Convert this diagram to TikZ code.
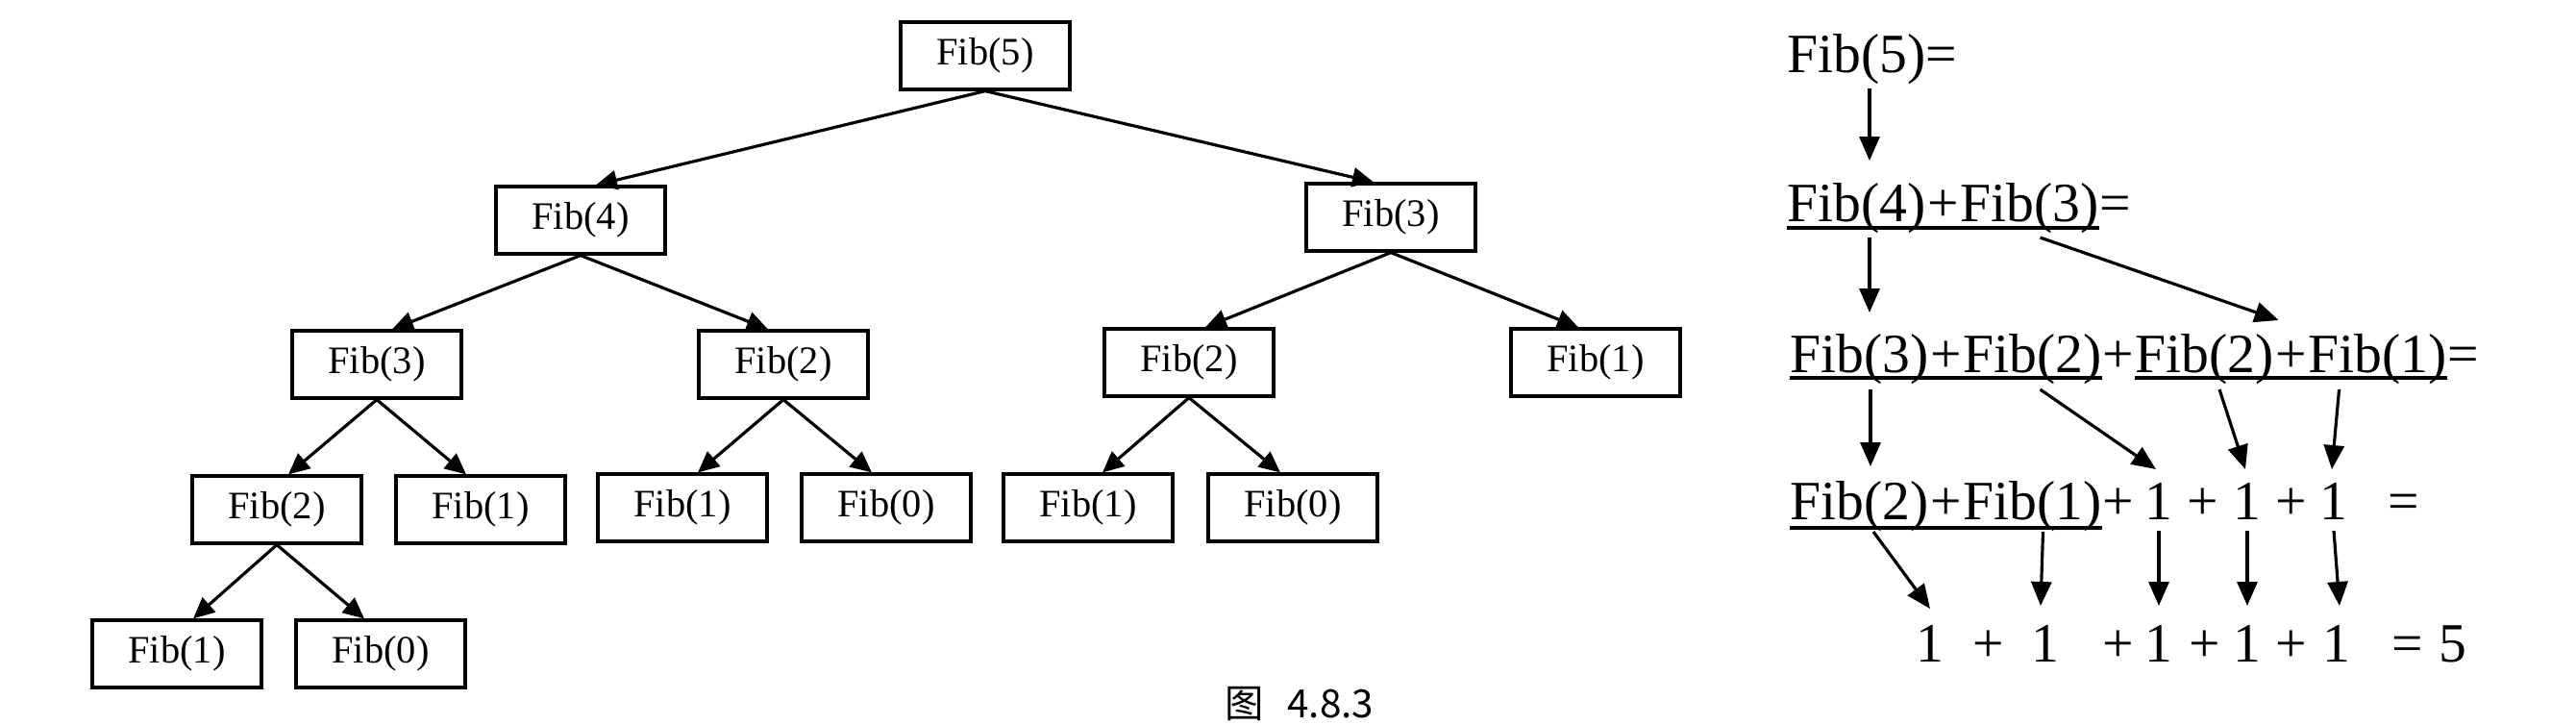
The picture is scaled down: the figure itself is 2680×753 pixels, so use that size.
\documentclass[tikz,border=0pt]{standalone}
\usepackage{fontspec}
\setmainfont{Liberation Serif}
\newfontfamily\cjkfnt{Noto Sans CJK SC}
\usetikzlibrary{arrows.meta,calc}
\newcommand\fbfnt{\fontsize{11.5}{13}\selectfont}
\newcommand\eqfnt{\fontsize{16.4}{19}\selectfont}
\begin{document}
\begin{tikzpicture}[x=0.01cm,y=-0.01cm,
  fibbox/.style={draw, line width=0.9pt, minimum width=1.76cm, minimum height=0.70cm, inner sep=0pt, font=\fbfnt},
  edge/.style={line width=0.9pt, -{Triangle[length=2.2mm,width=2mm]}},
  eq/.style={inner sep=0pt, font=\eqfnt, anchor=base west},
  eqc/.style={inner sep=0pt, font=\eqfnt, anchor=base},
  rarr/.style={line width=0.9pt, -{Triangle[length=2.5mm,width=2.1mm]}},
  uline/.style={line width=1pt}]
\useasboundingbox (0,0) rectangle (2680,753);
% ---------- tree ----------
\node[fibbox] (f5)  at (1025,58)  {Fib(5)};
\node[fibbox] (f4)  at (604,229)  {Fib(4)};
\node[fibbox] (f3r) at (1447,226) {Fib(3)};
\node[fibbox] (f3l) at (392,379)  {Fib(3)};
\node[fibbox] (f2a) at (815,379)  {Fib(2)};
\node[fibbox] (f2b) at (1237,377) {Fib(2)};
\node[fibbox] (f1a) at (1660,377) {Fib(1)};
\node[fibbox] (f2c) at (288,530)  {Fib(2)};
\node[fibbox] (f1b) at (500,530)  {Fib(1)};
\node[fibbox] (f1c) at (710,528)  {Fib(1)};
\node[fibbox] (f0a) at (922,528)  {Fib(0)};
\node[fibbox] (f1d) at (1132,528) {Fib(1)};
\node[fibbox] (f0b) at (1345,528) {Fib(0)};
\node[fibbox] (f1e) at (184,680)  {Fib(1)};
\node[fibbox] (f0c) at (396,680)  {Fib(0)};
\draw[edge] (f5.south) -- ([xshift=0.16cm]f4.north);
\draw[edge] (f5.south) -- ([xshift=-0.18cm]f3r.north);
\draw[edge] (f4.south) -- ([xshift=0.16cm]f3l.north);
\draw[edge] (f4.south) -- ([xshift=-0.16cm]f2a.north);
\draw[edge] (f3r.south) -- ([xshift=0.17cm]f2b.north);
\draw[edge] (f3r.south) -- ([xshift=-0.18cm]f1a.north);
\draw[edge] (f3l.south) -- ([xshift=0.12cm]f2c.north);
\draw[edge] (f3l.south) -- ([xshift=-0.15cm]f1b.north);
\draw[edge] (f2a.south) -- ([xshift=0.16cm]f1c.north);
\draw[edge] (f2a.south) -- ([xshift=-0.15cm]f0a.north);
\draw[edge] (f2b.south) -- ([xshift=0.15cm]f1d.north);
\draw[edge] (f2b.south) -- ([xshift=-0.13cm]f0b.north);
\draw[edge] (f2c.south) -- ([xshift=0.17cm]f1e.north);
\draw[edge] (f2c.south) -- ([xshift=-0.17cm]f0c.north);
% ---------- caption ----------
\node[font=\cjkfnt\fontsize{11.5}{13}\selectfont, anchor=south, inner sep=0pt] (cap) at (1352,750) {图\hspace{0.6em}4.8.3};
% ---------- expansion ----------
\node[eq] (r1) at (1859,75) {Fib(5)=};
\node[eq] (r2a) at (1859,230) {Fib(4)};
\node[eq] (r2b) at (r2a.base east) {+};
\node[eq] (r2c) at (r2b.base east) {Fib(3)};
\node[eq] (r2d) at (r2c.base east) {=};
\draw[uline] ([yshift=-0.07cm]r2a.base west) -- ([yshift=-0.07cm]r2c.base east);
\node[eq] (r3a) at (1862,387) {Fib(3)};
\node[eq] (r3b) at (r3a.base east) {+};
\node[eq] (r3c) at (r3b.base east) {Fib(2)};
\node[eq] (r3d) at (r3c.base east) {+};
\node[eq] (r3e) at (r3d.base east) {Fib(2)};
\node[eq] (r3f) at (r3e.base east) {+};
\node[eq] (r3g) at (r3f.base east) {Fib(1)};
\node[eq] (r3h) at (r3g.base east) {=};
\draw[uline] ([yshift=-0.06cm]r3a.base west) -- ([yshift=-0.06cm]r3c.base east);
\draw[uline] ([yshift=-0.06cm]r3e.base west) -- ([yshift=-0.06cm]r3g.base east);
\node[eq] (r4a) at (1862,540) {Fib(2)};
\node[eq] (r4b) at (r4a.base east) {+};
\node[eq] (r4c) at (r4b.base east) {Fib(1)};
\node[eq] (r4d) at (r4c.base east) {+};
\node[eqc] (r4e) at (2246,540) {1};
\node[eqc] (r4f) at (2292,540) {+};
\node[eqc] (r4g) at (2338,540) {1};
\node[eqc] (r4h) at (2384,540) {+};
\node[eqc] (r4i) at (2428,540) {1};
\node[eqc] (r4j) at (2501,540) {=};
\draw[uline] ([yshift=-0.09cm]r4a.base west) -- ([yshift=-0.09cm]r4c.base east);
\node[eqc] (r5a) at (2008,688) {1};
\node[eqc] (r5b) at (2069,688) {+};
\node[eqc] (r5c) at (2128,688) {1};
\node[eqc] (r5d) at (2204,688) {+};
\node[eqc] (r5e) at (2246,688) {1};
\node[eqc] (r5f) at (2294,688) {+};
\node[eqc] (r5g) at (2338,688) {1};
\node[eqc] (r5h) at (2384,688) {+};
\node[eqc] (r5i) at (2431,688) {1};
\node[eqc] (r5j) at (2505,688) {=};
\node[eqc] (r5k) at (2552,688) {5};
% arrows
\draw[rarr] ($(r1.base west)+(86,17)$) -- ($(r2a.base west)+(86,-63)$);
\draw[rarr] ($(r2a.base west)+(86,17)$) -- ($(r3a.base west)+(83,-62)$);
\draw[rarr] ($(r2c.base west)+(84,17)$) -- ($(r3f.base)+(-13,-54)$);
\draw[rarr] ($(r3a.base west)+(84,18)$) -- ($(r4a.base west)+(84,-55)$);
\draw[rarr] ($(r3c.base west)+(81,18)$) -- ($(r4e.base)+(-3,-52)$);
\draw[rarr] ($(r3e.base west)+(88,18)$) -- ($(r4g.base)+(-2,-52)$);
\draw[rarr] ($(r3g.base west)+(33,18)$) -- ($(r4i.base)+(-2,-52)$);
\draw[rarr] ($(r4a.base west)+(87,13)$) -- ($(r5a.base)+(0,-55)$);
\draw[rarr] ($(r4c.base west)+(84,13)$) -- ($(r5c.base)+(-5,-58)$);
\draw[rarr] ($(r4e.base)+(0,12)$) -- ($(r5e.base)+(0,-58)$);
\draw[rarr] ($(r4g.base)+(0,12)$) -- ($(r5g.base)+(0,-58)$);
\draw[rarr] ($(r4i.base)+(0,12)$) -- ($(r5i.base)+(3,-58)$);
\end{tikzpicture}
\end{document}
